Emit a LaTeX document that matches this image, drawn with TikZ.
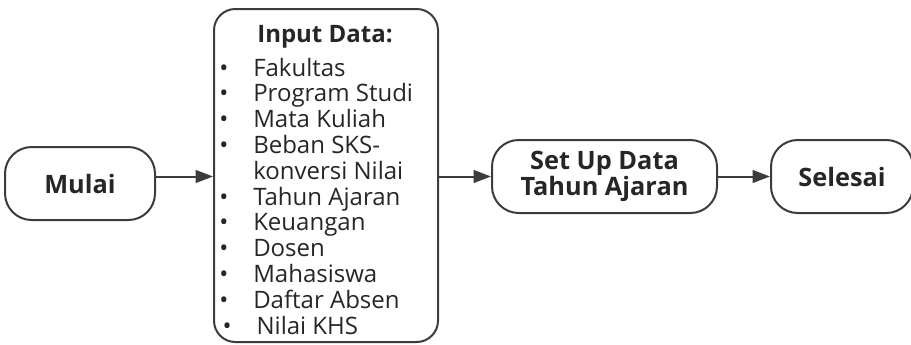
\documentclass[tikz,border=0pt]{standalone}
\usepackage{fontspec}
\setmainfont{Open Sans}
\usetikzlibrary{arrows.meta, positioning}
\definecolor{lineDark}{HTML}{3C3C3C}
\definecolor{textDark}{HTML}{262626}
\tikzset{
  arrowK/.style={-{Triangle[length=13pt, width=9.5pt]}, lineDark, line width=1.5pt},
  termBox/.style={rectangle, rounded corners=20pt, draw=lineDark, line width=1.5pt,
                  text=textDark, align=center, minimum height=54.75pt,
                  font=\fontsize{19}{19.5}\selectfont\bfseries, inner sep=0pt},
  dataBox/.style={rectangle, rounded corners=16pt, draw=lineDark, line width=1.5pt,
                  minimum width=168pt, minimum height=249.75pt, inner sep=0pt},
  hdrText/.style={text=textDark, inner sep=0pt, font=\fontsize{18}{19}\selectfont\bfseries},
  listText/.style={text=textDark, inner sep=0pt, align=left,
                   font=\fontsize{18}{19.1}\selectfont},
}
\newcommand{\itm}{\makebox[25.5pt][l]{•}}

\begin{document}
\begin{tikzpicture}[x=0.75pt, y=-0.75pt]
    \useasboundingbox (0,0) rectangle (911,344);
    % input block in the middle
    \node[dataBox] (input) at (326,175.5) {};
    \node[hdrText, anchor=base] (inhdr) at (325,42) {Input Data:};
    \node[listText, anchor=base west] (inlist) at (219,76) {%
      \begin{tabular}[t]{@{}l@{}}
        \itm Fakultas\\
        \itm Program Studi\\
        \itm Mata Kuliah\\
        \itm Beban SKS-\\
        \hspace*{25.5pt}konversi Nilai\\
        \itm Tahun Ajaran\\
        \itm Keuangan\\
        \itm Dosen\\
        \itm Mahasiswa\\
        \itm Daftar Absen\\
        \hspace*{2.5pt}\itm Nilai KHS
      \end{tabular}};
    % terminals and process
    \node[termBox, minimum width=112.5pt, left=42.75pt of input, yshift=-6pt]
      (mulai) {Mulai};
    \node[termBox, minimum width=168.75pt, right=39pt of input, yshift=-0.75pt]
      (setup) {Set Up Data\\Tahun Ajaran};
    \node[termBox, minimum width=106.5pt, right=39pt of setup]
      (selesai) {Selesai};
    \draw[arrowK] (mulai.east |- setup) -- (input.west |- setup);
    \draw[arrowK] (input.east |- setup) -- (setup.west);
    \draw[arrowK] (setup) -- (selesai);
  \end{tikzpicture}
\end{document}
